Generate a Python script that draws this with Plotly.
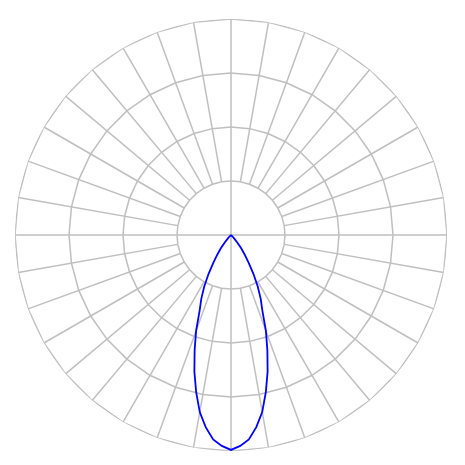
import plotly.graph_objects as go

# light distribution, gamma angle (deg from nadir) -> intensity
gamma = [0, 2.5, 5, 7.5, 10, 12.5, 15, 17.5, 20, 22.5, 25, 27.5, 30,
         32.5, 35, 37.5, 40, 42.5, 45, 50, 60, 70, 80, 90]
intensity = [398, 391, 380, 359, 333, 298, 262, 224, 189, 152, 130, 107, 83,
             61, 44, 31, 18, 9, 4, 0, 0, 0, 0, 0]

# polar grid
rings = [100, 200, 300, 400]
spoke_angles = list(range(0, 360, 10))

grid_color = "#bfbfbf"

fig = go.Figure()

# rings drawn as 36-sided polygons
for r in rings:
    th = spoke_angles + [spoke_angles[0]]
    fig.add_trace(go.Scatterpolar(
        r=[r] * len(th), theta=th, mode="lines",
        line=dict(color=grid_color, width=1.5),
        hoverinfo="skip", showlegend=False
    ))

# spokes: main axes go through the centre, the rest start at first ring
sr, st = [], []
for a in spoke_angles:
    start = 0 if a % 90 == 0 else rings[0]
    sr += [start, rings[-1], None]
    st += [a, a, None]
fig.add_trace(go.Scatterpolar(
    r=sr, theta=st, mode="lines",
    line=dict(color=grid_color, width=1.5),
    hoverinfo="skip", showlegend=False
))

# curve, mirrored over both sides of the nadir
theta = [-g for g in reversed(gamma)] + gamma[1:]
values = list(reversed(intensity)) + intensity[1:]
fig.add_trace(go.Scatterpolar(
    r=values, theta=theta, mode="lines",
    line=dict(color="blue", width=1.8),
    showlegend=False
))

fig.update_layout(
    width=465, height=465,
    margin=dict(l=7, r=26, t=11, b=22),
    paper_bgcolor="white",
    polar=dict(
        bgcolor="white",
        radialaxis=dict(range=[0, 400], visible=False, showgrid=False),
        angularaxis=dict(visible=False, showgrid=False, rotation=-90,
                         direction="counterclockwise"),
    ),
)

fig.write_html("out.html")
